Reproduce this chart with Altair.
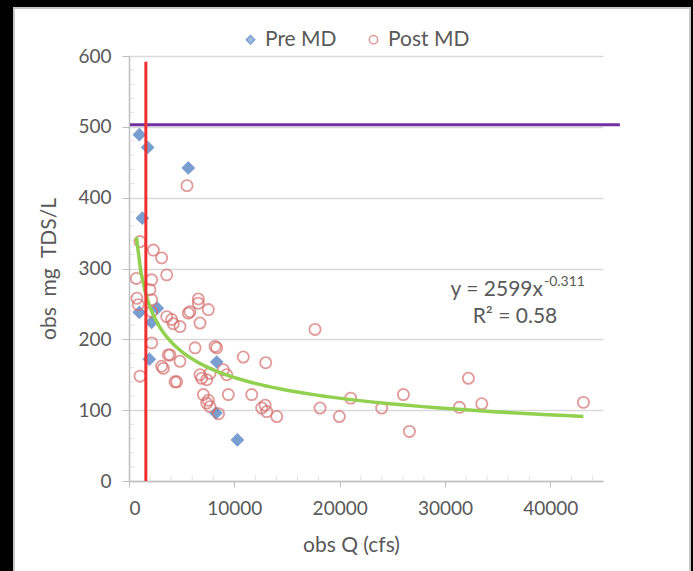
import altair as alt
import pandas as pd

# ---- data ----
pre_q = [980, 1770, 5630, 1265, 980, 2690, 2150, 1930, 8330, 8260, 10290]
pre_tds = [489, 471, 442, 371, 238, 244, 224, 172, 168, 96, 58]

post_q = [5510, 1045, 2310, 3100, 3580, 700, 2150, 1990, 750, 2150, 880, 6580, 6580, 7530,
          5630, 2150, 6740, 4050, 4840, 3580, 2150, 1045, 17660, 3730, 4840, 3260, 6270,
          8330, 4530, 6740, 7690, 7380, 9280, 7060, 7380, 9430, 10850, 11650, 12980, 12600,
          12920, 14030, 18140, 19970, 13080, 21050, 23990, 26050, 26620, 32220, 31370, 33490,
          43140, 5790, 3890, 4370, 8960, 7530, 7690, 6900, 3100, 8170, 4200, 8500]
post_tds = [417, 338, 326, 315, 291, 286, 284, 270, 258, 256, 249, 257, 251, 242,
            237, 239, 223, 228, 218, 232, 195, 148, 214, 178, 169, 159, 188,
            188, 140, 150, 152, 143, 150, 122, 110, 122, 175, 122, 167, 103,
            107, 91, 103, 91, 98, 117, 103, 122, 70, 145, 104, 109,
            111, 239, 178, 140, 157, 114, 105, 145, 162, 190, 222, 95]

series_names = ["Pre MD", "Post MD"]
limit_tds = [503]            # purple horizontal line level
limit_span = [100, 46600]    # its extent in Q
threshold_q = [1600]         # red vertical line
threshold_span = [0, 592]    # its extent in TDS
x_ticks = [0, 10000, 20000, 30000, 40000]
y_ticks = [0, 100, 200, 300, 400, 500, 600]
x_minor = [2000, 4000, 6000, 8000, 12000, 14000, 16000, 18000, 22000, 24000, 26000, 28000,
           32000, 34000, 36000, 38000, 42000, 44000]
y_minor = [20, 40, 60, 80, 120, 140, 160, 180, 220, 240, 260, 280, 320, 340, 360, 380,
           420, 440, 460, 480, 520, 540, 560, 580]

pre = pd.DataFrame({"Q": pre_q, "TDS": pre_tds, "series": series_names[0], "ord": 0})
post = pd.DataFrame({"Q": post_q, "TDS": post_tds, "series": series_names[1], "ord": 1})
df = pd.concat([pre, post], ignore_index=True)

FONT = "Lato"
TXT = "#595959"
GRID = "#d9d9d9"
AXC = "#bfbfbf"
NB = "\u00a0"

xs = alt.Scale(domain=[0, 45000], nice=False, zero=False)
ys = alt.Scale(domain=[0, 600], nice=False)

one = alt.Data(values=[{}])


def strip(x0, x1, y0, y1, **kw):
    return alt.Chart(one).mark_rect(**kw).encode(
        x=alt.value(x0), x2=alt.value(x1), y=alt.value(y0), y2=alt.value(y1)
    )


# black surround of the picture and the light grey frame of the chart panel
frame = strip(-115, 561, -48, 530, fill="rgba(0,0,0,0)", stroke="#c8c8c8", strokeWidth=2)
left_black = strip(-129, -116, -56, 515, fill="black")
top_black = strip(-129, 564, -56, -49, fill="black")
right_black = strip(562, 564, -56, 515, fill="black")

# faint inside minor ticks
minor_y = alt.Chart(pd.DataFrame({"v": y_minor})).mark_tick(
    color="#d4d4d4", size=5, thickness=1, orient="horizontal"
).encode(y=alt.Y("v:Q", scale=ys), x=alt.value(3))
minor_x = alt.Chart(pd.DataFrame({"v": x_minor})).mark_tick(
    color="#d4d4d4", size=5, thickness=1, orient="vertical"
).encode(x=alt.X("v:Q", scale=xs), y=alt.value(422))

points = alt.Chart(df).mark_point(filled=False, strokeWidth=1.8, size=125).encode(
    x=alt.X("Q:Q", scale=xs,
            axis=alt.Axis(values=x_ticks, grid=False, title="obs Q (cfs)",
                          tickSize=6, labelPadding=12, format="d",
                          labelFontSize=19, titleX=222, titleY=64, titleBaseline="middle")),
    y=alt.Y("TDS:Q", scale=ys,
            axis=alt.Axis(values=y_ticks, grid=True, title=f"obs{NB}{NB}mg{NB}{NB}TDS/L",
                          tickSize=7, labelPadding=11, titlePadding=18, format="d",
                          labelFontSize=19)),
    color=alt.Color("series:N", scale=alt.Scale(domain=series_names, range=["#4276bd", "#d4706e"]),
                    legend=alt.Legend(title=None, orient="none", legendX=111, legendY=-27,
                                      direction="horizontal", symbolSize=70, labelFontSize=21,
                                      labelColor=TXT, labelFont=FONT, columnPadding=26,
                                      labelOffset=4, symbolStrokeWidth=1.5)),
    fill=alt.Fill("series:N", scale=alt.Scale(domain=series_names, range=["#4276bd", "rgba(0,0,0,0)"]),
                  legend=None),
    shape=alt.Shape("series:N", scale=alt.Scale(domain=series_names, range=["diamond", "circle"]),
                    legend=None),
    order=alt.Order("ord:Q", sort="ascending"),
)

trend = alt.Chart(df).transform_regression("Q", "TDS", method="pow").mark_line(
    color="#92d050", strokeWidth=3.5
).encode(x=alt.X("Q:Q", scale=xs), y=alt.Y("TDS:Q", scale=ys))

purple = alt.Chart(pd.DataFrame({"y": limit_tds, "x0": [limit_span[0]], "x1": [limit_span[1]]})).mark_rule(
    color="#7030a0", strokeWidth=3
).encode(
    y=alt.Y("y:Q", scale=ys), x=alt.X("x0:Q", scale=xs), x2="x1:Q"
)

red = alt.Chart(pd.DataFrame({"x": threshold_q, "y0": [threshold_span[0]], "y1": [threshold_span[1]]})).mark_rule(
    color="#f0302f", strokeWidth=3
).encode(
    x=alt.X("x:Q", scale=xs), y=alt.Y("y0:Q", scale=ys), y2="y1:Q"
)

eq1 = alt.Chart(one).mark_text(
    text="y = 2599x", font=FONT, fontSize=21, color=TXT, align="right", baseline="middle"
).encode(x=alt.value(414), y=alt.value(234))
eq_sup = alt.Chart(one).mark_text(
    text="-0.311", font=FONT, fontSize=14, color=TXT, align="left", baseline="middle"
).encode(x=alt.value(415), y=alt.value(226))
eq2 = alt.Chart(one).mark_text(
    text="R² = 0.58", font=FONT, fontSize=21, color=TXT, align="center", baseline="middle"
).encode(x=alt.value(386), y=alt.value(261))

chart = alt.layer(minor_y, minor_x, points, trend, purple, red, eq1, eq_sup, eq2,
                  frame, left_black, top_black, right_black).properties(
    width=474, height=425,
    autosize=alt.AutoSizeParams(type="none"),
    padding={"left": 129, "top": 56, "right": 90, "bottom": 90},
    background="white",
).configure_view(stroke=None).configure_axis(
    labelFont=FONT, titleFont=FONT, titleFontSize=21,
    labelColor=TXT, titleColor=TXT, titleFontWeight="normal",
    domainColor=AXC, tickColor=AXC, gridColor=GRID, gridWidth=1.5, domainWidth=1.5,
)

chart.save("out.html", embed_options={"renderer": "svg", "actions": False})
